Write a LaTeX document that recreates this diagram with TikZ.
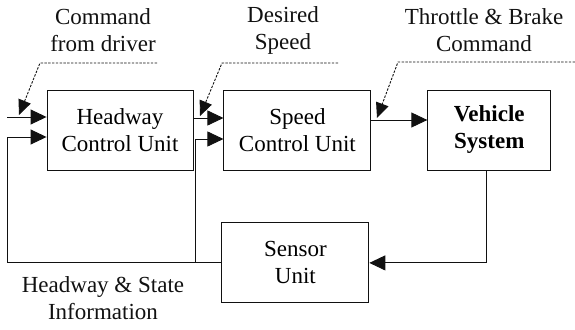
\documentclass[tikz,border=0pt]{standalone}
\usepackage{fontspec}
\setmainfont{Liberation Serif}
\usepackage{tikz}
\usetikzlibrary{arrows.meta,positioning,calc}
\definecolor{ink}{HTML}{111111}
\tikzset{
  >={Triangle[length=16pt,width=15pt]},
  flow/.style={->,line width=0.9pt,draw=ink},
  cue/.style={->,line width=0.9pt,draw=ink,dash pattern=on 2.4pt off 1.4pt,
    >={Triangle[length=15pt,width=13pt]}},
  box/.style={draw=ink,line width=0.9pt,align=center,inner sep=0pt,
    minimum width=146pt,minimum height=80pt,
    font=\fontsize{23}{27}\selectfont},
  boldbox/.style={box,minimum width=123pt,font=\fontsize{23}{27}\selectfont\bfseries},
  tag/.style={align=center,inner sep=0pt,text=ink,
    font=\fontsize{23}{27}\selectfont}
}
\begin{document}
\begin{tikzpicture}[x=1pt,y=-1pt,node distance=52pt and 30pt]
  \useasboundingbox (0,0) rectangle (575,329);
  \node[box] (hcu) at (120,130) {Headway\\Control Unit};
  \node[box,right=of hcu,minimum width=147pt] (scu) {Speed\\Control Unit};
  \node[boldbox,right=56pt of scu] (veh) {Vehicle\\System};
  \node[box,below=of scu,xshift=-2pt,minimum width=147pt] (sen) {Sensor\\Unit};
  % labels
  \node[tag] (cmdtxt) at (103,30) {Command\\from driver};
  \node[tag] (spdtxt) at (283,30) {Desired\\Speed};
  \node[tag] (thrtxt) at (484,30) {Throttle \& Brake\\Command};
  \node[tag] (infotxt) at (103,298) {Headway \& State\\Information};
  % free ends
  \coordinate (in) at (7,117);
  \coordinate (fbl) at (7,137);
  \coordinate (tap) at (195,139);
  \coordinate (cmdA) at (157,63); \coordinate (cmdB) at (40,63); \coordinate (cmdC) at (19,115);
  \coordinate (spdA) at (338,63); \coordinate (spdB) at (222,63); \coordinate (spdC) at (200,116);
  \coordinate (thrA) at (575,62); \coordinate (thrB) at (398,62); \coordinate (thrC) at (377,118);
  % signal lines
  \draw[flow] (in) -- (in -| hcu.west);
  \draw[flow] (sen.west) -| (fbl) -- (fbl -| hcu.west);
  \draw[flow] ([yshift=12pt]hcu.east) -- ([yshift=12pt]scu.west);
  \draw[flow] (tap |- sen.west) -- (tap) -- (tap -| scu.west);
  \draw[flow] ([yshift=10pt]scu.east) -- ([yshift=10pt]scu.east -| veh.west);
  \draw[flow] ([xshift=-3pt]veh.south) |- (sen.east);
  % dotted pointers
  \draw[cue] (cmdA) -- (cmdB) -- (cmdC);
  \draw[cue] (spdA) -- (spdB) -- (spdC);
  \draw[cue] (thrA) -- (thrB) -- (thrC);
\end{tikzpicture}
\end{document}
